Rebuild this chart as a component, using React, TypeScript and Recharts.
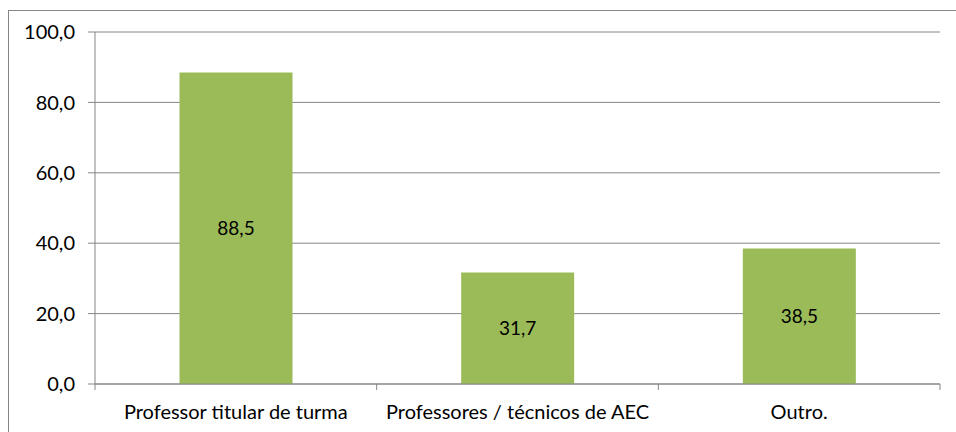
import { BarChart, Bar, XAxis, YAxis, CartesianGrid, LabelList } from 'recharts';

const categories = ['Professor titular de turma', 'Professores / técnicos de AEC', 'Outro.'];
const values = [88.5, 31.7, 38.5];
const yTicks = [0, 20, 40, 60, 80, 100];

const data = categories.map((name, i) => ({ name, value: values[i] }));

const fmt = (v: number) => Number(v).toFixed(1).replace('.', ',');
const font = 'Lato, "Open Sans", sans-serif';
const gray = '#868686';

// category label plus the small tick marks Excel puts between categories
function CatTick(props: any) {
  const { x, y, payload, index, visibleTicksCount } = props;
  const half = payload.offset || 0;
  const last = index === visibleTicksCount - 1;
  return (
    <g>
      <line x1={x - half} y1={y} x2={x - half} y2={y + 6} stroke={gray} />
      {last && <line x1={x + half} y1={y} x2={x + half} y2={y + 6} stroke={gray} />}
      <text x={x} y={y + 35} textAnchor="middle" fill="#000" fontSize={20} fontFamily={font}>
        {payload.value}
      </text>
    </g>
  );
}

export default function App() {
  return (
    <div style={{ position: 'absolute', left: 0, top: 0, width: 956, height: 432, overflow: 'hidden', background: '#fff' }}>
      <div style={{ position: 'absolute', left: 8, top: 10, width: 980, height: 460, border: `1px solid ${gray}` }} />
      <div style={{ position: 'absolute', left: 0, top: 0 }}>
        <BarChart width={956} height={432} data={data} margin={{ top: 32, right: 16, bottom: 8, left: 0 }} barCategoryGap="30%">
          <CartesianGrid vertical={false} stroke={gray} strokeWidth={1} />
          <XAxis
            dataKey="name"
            height={40}
            axisLine={{ stroke: gray }}
            tickLine={false}
            tickSize={0}
            tickMargin={0}
            tick={<CatTick />}
            interval={0}
          />
          <YAxis
            width={95}
            domain={[0, 100]}
            ticks={yTicks}
            tickFormatter={fmt}
            axisLine={{ stroke: gray }}
            tickLine={{ stroke: gray }}
            tickSize={7}
            tickMargin={13}
            tick={{ fill: '#000', fontSize: 20, fontFamily: font }}
          />
          <Bar dataKey="value" fill="#9BBB59" isAnimationActive={false}>
            <LabelList dataKey="value" position="center" formatter={(v: any) => fmt(v)} fill="#000" fontSize={19} fontFamily={font} />
          </Bar>
        </BarChart>
      </div>
    </div>
  );
}
